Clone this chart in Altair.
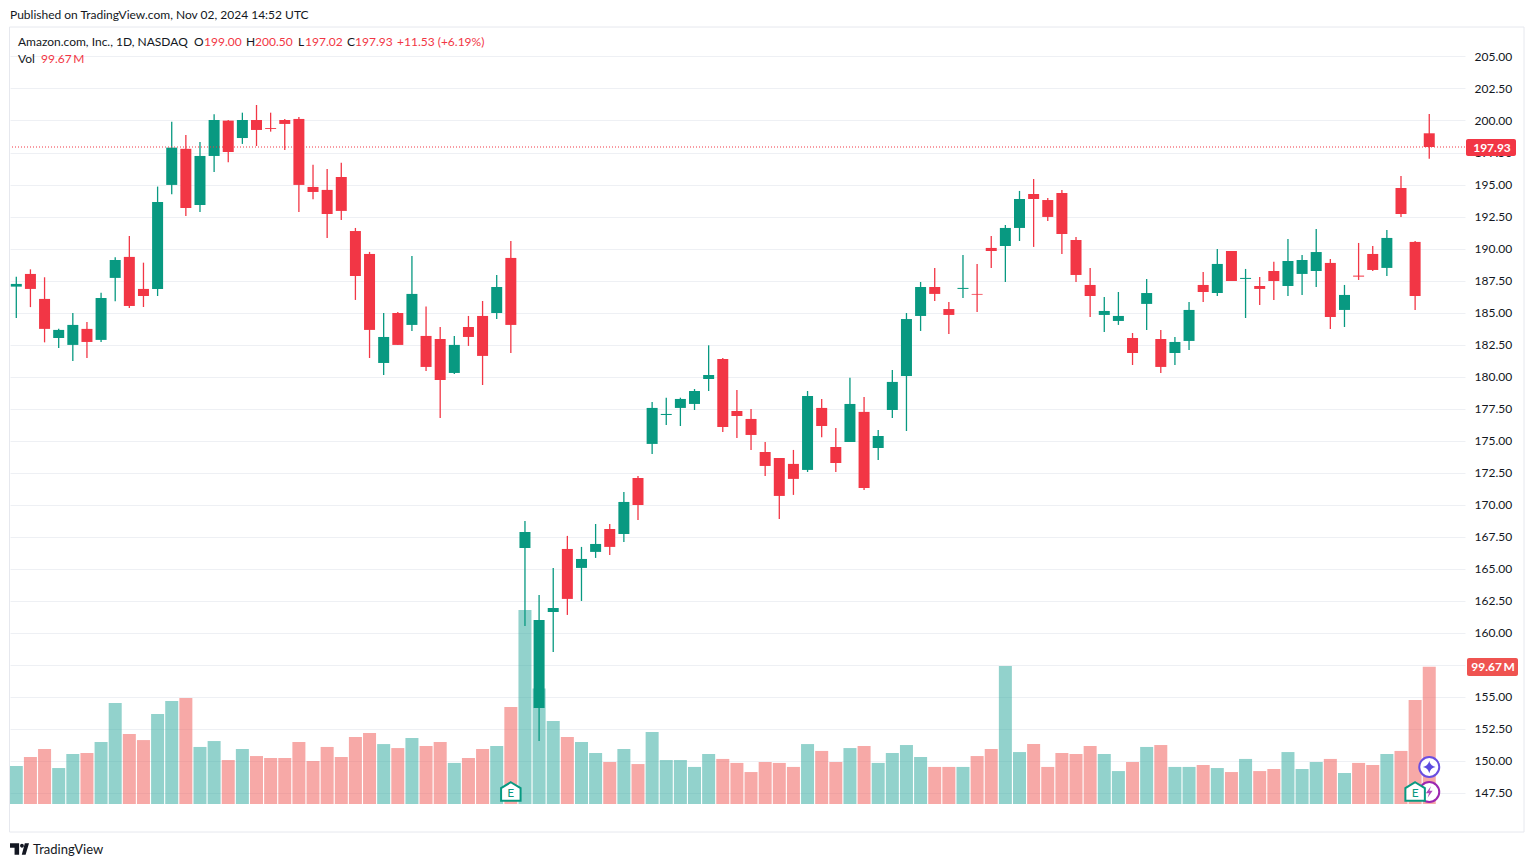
import altair as alt
import pandas as pd

opens = [187.03,188.02,186.07,183.02,182.48,183.73,182.87,187.71,189.35,186.85,
186.85,194.97,197.79,193.40,197.23,199.99,198.63,200.04,199.41,200.04,
200.12,194.81,194.58,195.59,191.37,189.58,181.07,184.97,184.04,183.18,
182.94,180.29,183.88,184.74,184.97,189.27,166.63,154.14,161.63,166.55,
165.07,166.32,168.11,167.72,172.09,174.75,177.01,177.56,177.87,179.82,
181.38,177.32,176.70,174.12,173.65,173.19,172.72,177.56,174.51,174.90,
177.25,174.43,177.40,180.05,184.74,187.00,185.28,186.85,186.46,190.05,
190.20,191.61,194.26,193.79,194.34,190.67,187.16,184.82,184.35,183.02,
185.68,182.94,181.85,182.79,187.16,186.53,189.81,187.63,187.08,188.25,
187.08,188.02,188.25,188.88,185.21,187.89,189.58,188.49,194.73,190.52,199.00]
closes = [187.24,186.85,183.73,183.65,184.04,182.71,186.14,189.11,185.52,186.30,
193.64,197.88,193.17,197.23,200.04,197.54,200.04,199.26,199.34,199.73,
194.97,194.42,192.70,192.94,187.86,183.65,183.10,182.48,186.46,180.76,
179.74,182.48,183.10,181.62,187.00,184.04,167.88,161.01,161.94,162.65,
165.77,166.94,166.71,170.22,169.98,177.56,177.09,178.26,178.88,180.13,
176.07,176.93,175.45,173.03,170.69,172.02,178.49,176.15,173.26,177.87,
171.31,175.37,179.59,184.50,187.00,186.46,184.82,186.93,186.40,189.81,
191.61,193.87,193.87,192.47,191.14,187.94,186.30,185.13,184.74,181.85,
186.53,180.76,182.71,185.21,186.61,188.80,187.47,187.71,186.85,187.47,
189.03,189.11,189.73,184.66,186.38,187.81,188.33,190.83,192.70,186.30,197.93]
highs = [187.81,188.38,187.76,183.75,184.97,184.27,186.56,189.32,190.98,188.90,
194.84,199.91,198.87,198.32,200.48,200.04,200.61,201.21,200.61,200.12,
200.27,196.55,196.21,196.71,191.61,189.74,184.97,185.05,189.42,185.47,
183.88,183.18,184.74,185.91,187.94,190.59,168.74,162.96,165.07,167.57,
166.71,168.50,168.50,171.00,172.25,178.03,178.36,178.36,179.04,182.45,
181.46,178.96,177.48,174.90,173.65,174.28,178.88,178.26,175.99,179.92,
178.42,175.84,180.52,184.97,187.39,188.49,185.83,189.50,188.80,190.98,
191.84,194.50,195.43,193.95,194.57,190.91,188.49,186.22,186.61,183.41,
187.63,183.65,183.10,185.83,188.17,189.97,189.81,188.41,187.78,188.98,
190.75,189.50,191.53,189.19,187.16,190.44,190.20,191.45,195.67,190.59,200.50]
lows = [184.58,185.43,182.68,182.24,181.23,181.46,182.71,185.88,185.36,185.44,
186.30,194.24,192.55,192.86,195.98,196.74,198.17,198.01,199.13,197.70,
192.86,193.85,190.83,192.23,185.99,181.46,180.13,182.48,183.57,180.45,
176.78,180.21,182.40,179.35,184.50,181.85,160.54,151.56,158.51,161.40,
162.49,165.85,166.08,167.10,168.81,173.97,176.23,176.15,177.40,178.88,
175.68,175.21,174.28,172.25,168.89,170.77,172.56,175.27,172.56,174.90,
171.16,173.50,176.78,175.76,183.57,185.91,183.33,186.14,185.05,188.49,
187.39,190.59,190.13,192.15,189.58,187.39,184.66,183.49,184.04,180.91,
183.65,180.29,180.91,182.09,185.83,186.30,187.47,184.58,185.60,185.99,
186.30,186.38,187.00,183.72,183.88,187.55,188.25,187.86,192.47,185.21,197.02]
volumes = [27.6,34.1,39.9,26.1,36.3,37.0,45.0,73.3,50.8,46.4,
65.3,74.7,76.9,41.4,45.7,31.9,39.9,34.8,33.4,33.4,
45.0,31.2,41.4,34.1,48.6,51.5,43.5,40.6,47.9,42.1,
45.0,29.8,33.4,39.9,42.1,70.4,140.8,83.9,60.2,48.6,
45.0,37.0,30.5,39.9,29.0,52.3,31.9,31.9,26.9,36.3,
32.7,29.8,23.2,30.5,29.8,26.9,43.5,38.5,30.5,40.6,
42.1,29.8,37.0,42.8,34.1,26.9,26.9,26.9,34.8,39.9,
100.1,37.7,43.5,26.9,37.0,36.3,42.1,36.3,23.9,30.5,
41.4,42.8,26.9,26.9,28.3,26.1,23.2,32.7,23.9,25.4,
37.7,25.4,30.5,32.7,22.5,29.8,28.3,36.3,38.5,75.5,99.67]

tick_positions = [4, 13, 22, 28, 35, 42, 48, 57, 66, 77, 86, 92, 100]
tick_labels = ["17", "Jul", "15", "23", "Aug", "12", "20", "Sep", "16", "Oct", "14", "22", "Nov"]
price_ticks = [147.5 + 2.5 * k for k in range(24)]
earnings = [35, 99]

FONT = "Lato"
GREEN = "#089981"
RED = "#F23645"
INK = "#131722"
GRID = "#eef0f4"

df = pd.DataFrame({"i": range(len(opens)), "open": opens, "close": closes, "high": highs,
                   "low": lows, "volume": volumes})
df["dir"] = ["up" if c >= o else "down" for o, c in zip(opens, closes)]

xs = alt.Scale(domain=[-0.446, 102.53], nice=False, zero=False, padding=0)
ys = alt.Scale(domain=[146.64, 207.22], nice=False, zero=False)
vs = alt.Scale(domain=[0, 563.2], nice=False, zero=False)
cs = alt.Scale(domain=["up", "down"], range=[GREEN, RED])
vcs = alt.Scale(domain=["up", "down"], range=["#26a69a", "#ef5350"])

label_map = "{" + ",".join(f"'{p}':'{t}'" for p, t in zip(tick_positions, tick_labels)) + "}"
x_axis = alt.Axis(values=tick_positions, labelExpr=label_map + "[datum.value]", grid=True, gridColor=GRID,
                  ticks=False, domain=False, title=None, labelFont=FONT, labelFontSize=12, labelColor=INK,
                  labelPadding=7, labelAngle=0, labelOverlap=False)
y_axis = alt.Axis(values=price_ticks, labelExpr="datum.value == 157.5 ? '' : format(datum.value, '.2f')",
                  orient="right", grid=True, gridColor=GRID, ticks=False,
                  domain=False, title=None, labelFont=FONT, labelFontSize=12, labelColor=INK, labelPadding=9,
                  labelOverlap=False)
X = alt.X("i:Q", scale=xs, axis=None)

base = alt.Chart(df)
vol = base.mark_bar(size=13, opacity=0.5).encode(
    x=alt.X("i:Q", scale=xs, axis=x_axis), y=alt.Y("volume:Q", scale=vs, axis=None),
    color=alt.Color("dir:N", scale=vcs, legend=None))
wick = base.mark_rule(strokeWidth=1.3).encode(
    x=X, y=alt.Y("low:Q", scale=ys, axis=y_axis), y2="high:Q",
    color=alt.Color("dir:N", scale=cs, legend=None))
body = base.mark_bar(size=11).encode(
    x=X, y=alt.Y("open:Q", scale=ys, axis=None), y2="close:Q", color=alt.Color("dir:N", scale=cs, legend=None))
last = alt.Chart(pd.DataFrame({"p": [closes[-1]]})).mark_rule(color=RED, strokeWidth=1, strokeDash=[1, 2]).encode(
    y=alt.Y("p:Q", scale=ys, axis=None))


def txt(s, x, y, color=INK, size=12, align="left", weight="normal"):
    return alt.Chart(pd.DataFrame({"t": [s]})).mark_text(align=align, baseline="middle", font=FONT, fontSize=size,
                                                         color=color, fontWeight=weight).encode(
        x=alt.value(x), y=alt.value(y), text="t:N")


def tag(x, x2, y, y2, color):
    return alt.Chart(pd.DataFrame({"a": [0]})).mark_rect(color=color, cornerRadius=2).encode(
        x=alt.value(x), x2=alt.value(x2), y=alt.value(y), y2=alt.value(y2))


OX, OY = 10, 28  # page position of the plot origin
frame = alt.Chart(pd.DataFrame({"a": [0]})).mark_rect(fill="#ffffff", fillOpacity=0, stroke="#e6e8ee", strokeWidth=1).encode(
    x=alt.value(9.5 - OX), x2=alt.value(1524 - OX), y=alt.value(27 - OY), y2=alt.value(832 - OY))

texts = [
    txt("Published on TradingView.com, Nov 02, 2024 14:52 UTC", 10 - OX, 15 - OY),
    txt("Amazon.com, Inc., 1D, NASDAQ", 18 - OX, 42 - OY),
    txt("O", 194 - OX, 42 - OY), txt("199.00", 204 - OX, 42 - OY, RED),
    txt("H", 246 - OX, 42 - OY), txt("200.50", 255 - OX, 42 - OY, RED),
    txt("L", 298 - OX, 42 - OY), txt("197.02", 305 - OX, 42 - OY, RED),
    txt("C", 347 - OX, 42 - OY), txt("197.93", 355 - OX, 42 - OY, RED),
    txt("+11.53 (+6.19%)", 397 - OX, 42 - OY, RED),
    txt("Vol", 18 - OX, 59 - OY), txt("99.67\u2009M", 41 - OX, 59 - OY, RED),
    tag(1466 - OX, 1516 - OX, 139 - OY, 156 - OY, RED),
    txt("197.93", 1492 - OX, 148 - OY, "#ffffff", align="center", weight="bold"),
    tag(1467 - OX, 1518 - OX, 658 - OY, 676 - OY, "#EF5350"),
    txt("99.67\u2009M", 1493 - OX, 667 - OY, "#ffffff", align="center", weight="bold"),
    txt("TradingView", 33 - OX, 850 - OY, INK, size=13),
]

# custom symbol paths: vega scales them by sqrt(size) / 2
HOUSE = "M0,-1 L1,-0.4 L1,0.9 L-1,0.9 L-1,-0.4 Z"
STAR = "M0,-1 Q0.16,-0.16 1,0 Q0.16,0.16 0,1 Q-0.16,0.16 -1,0 Q-0.16,-0.16 0,-1 Z"
BOLT = "M0.3,-1 L-0.6,0.2 L-0.04,0.2 L-0.3,1 L0.6,-0.2 L0.04,-0.2 Z"
LOGO = ("M-1,-0.6 H-0.04 V0.6 H-0.52 V-0.12 H-1 Z M0.24,0.6 L0.56,-0.6 H1 L0.64,0.6 Z "
        "M0.06,-0.34 a0.2,0.2 0 1,0 0.4,0 a0.2,0.2 0 1,0 -0.4,0 Z")

one = alt.Chart(pd.DataFrame({"i": [100]}))
star_c = one.mark_point(shape="circle", size=400, filled=True, fill="#ffffff", stroke="#6a4ee0", strokeWidth=2, opacity=1).encode(
    x=X, y=alt.value(767 - OY))
star = one.mark_point(shape=STAR, size=160, filled=True, fill="#5b4be0", opacity=1).encode(x=X, y=alt.value(767 - OY))
bolt_c = one.mark_point(shape="circle", size=400, filled=True, fill="#ffffff", stroke="#9c27b0", strokeWidth=2, opacity=1).encode(
    x=X, y=alt.value(792 - OY))
bolt = one.mark_point(shape=BOLT, size=130, filled=True, fill="#ab47bc", opacity=1).encode(x=X, y=alt.value(792 - OY))

er = alt.Chart(pd.DataFrame({"i": earnings, "t": ["E", "E"]}))
house = er.mark_point(shape=HOUSE, size=380, filled=True, fill="#ffffff", stroke=GREEN, strokeWidth=2, opacity=1).encode(
    x=X, y=alt.value(792 - OY))
e_txt = er.mark_text(font=FONT, fontSize=12, color=GREEN, baseline="middle").encode(
    x=X, y=alt.value(793 - OY), text="t:N")
logo = alt.Chart(pd.DataFrame({"a": [0]})).mark_point(shape=LOGO, size=361, filled=True, fill=INK, opacity=1).encode(
    x=alt.value(19.5 - OX), y=alt.value(849 - OY))

chart = alt.layer(vol, wick, body, last, frame, star_c, star, bolt_c, bolt, house, e_txt, logo, *texts).resolve_scale(
    y="independent", x="shared", color="independent"
).properties(
    width=1455, height=776, background="#ffffff",
    padding={"left": 2, "top": 20, "right": 60, "bottom": 55},
    autosize=alt.AutoSizeParams(type="none"),
).configure_view(stroke=None)

chart.save("out.html", embed_options={"renderer": "svg", "actions": False})
